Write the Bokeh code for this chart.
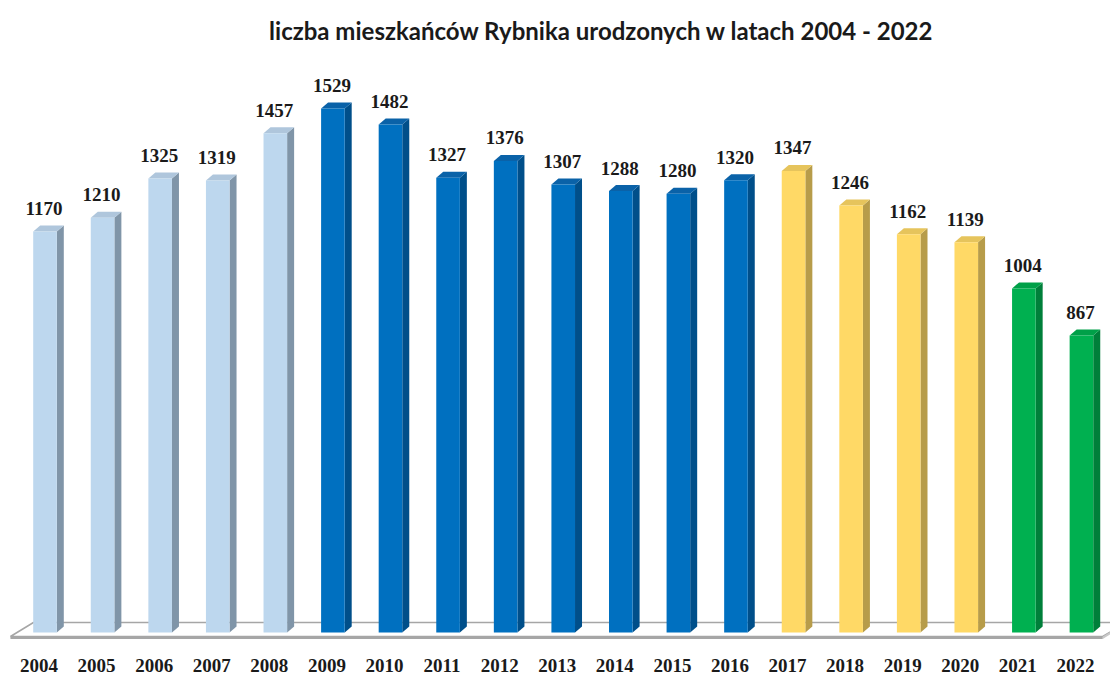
from bokeh.plotting import figure
from bokeh.models import ColumnDataSource, Range1d, LabelSet, Label
from bokeh.embed import file_html
from bokeh.resources import INLINE

# ---- data ----
years = ["2004", "2005", "2006", "2007", "2008", "2009", "2010", "2011", "2012", "2013",
         "2014", "2015", "2016", "2017", "2018", "2019", "2020", "2021", "2022"]
births = [1170, 1210, 1325, 1319, 1457, 1529, 1482, 1327, 1376, 1307,
          1288, 1280, 1320, 1347, 1246, 1162, 1139, 1004, 867]
groups = ["light"] * 5 + ["dark"] * 8 + ["yellow"] * 4 + ["green"] * 2
title_text = "liczba mieszkańców Rybnika urodzonych w latach 2004 - 2022"

# ---- styles ----
palette = {  # front, side, top
    "light": ("#BDD7EE", "#8095A8", "#AFC6DC"),
    "dark": ("#0070C0", "#004F8A", "#0A62A8"),
    "yellow": ("#FFD966", "#B79C4A", "#E6C45C"),
    "green": ("#00B050", "#007F3A", "#00A048"),
}

W, H = 1110, 675
n = len(years)
step_px = 57.58
x0 = -44.5 / step_px
x1 = x0 + W / step_px
ky = 0.3427                 # px per y unit
y1 = 632 / ky
y0 = -(H - 632) / ky
kx = step_px

hw = 11.8 / kx              # half width of front face
dx = 7.0 / kx               # depth offset x
dy = 6.0 / ky               # depth offset y

xs = list(range(n))
front_c = [palette[g][0] for g in groups]
side_c = [palette[g][1] for g in groups]
top_c = [palette[g][2] for g in groups]

side_xs, side_ys, top_xs, top_ys = [], [], [], []
for x, v in zip(xs, births):
    side_xs.append([x + hw, x + hw + dx, x + hw + dx, x + hw])
    side_ys.append([0, dy, v + dy, v])
    top_xs.append([x - hw, x - hw + dx, x + hw + dx, x + hw])
    top_ys.append([v, v + dy, v + dy, v])

src = ColumnDataSource(dict(
    x=xs, left=[x - hw for x in xs], right=[x + hw for x in xs],
    top=births, bottom=[0] * n, year=years, label=[str(v) for v in births],
    front=front_c, side=side_c, topc=top_c,
    sxs=side_xs, sys=side_ys, txs=top_xs, tys=top_ys,
))

p = figure(width=W, height=H, output_backend="svg", toolbar_location=None,
           x_range=Range1d(x0, x1), y_range=Range1d(y0, y1),
           min_border=0, min_border_left=0, min_border_right=0,
           min_border_top=0, min_border_bottom=0)
p.axis.visible = False
p.grid.visible = False
p.outline_line_color = None
p.background_fill_color = "white"
p.border_fill_color = "white"

# ---- floor ----
f_front = -4.0 / ky
f_back = 10.0 / ky
f_lf, f_lb = -0.6, -0.6 + 23 / kx
f_rf, f_rb = n - 1 + 0.37, n - 1 + 0.37 + 23 / kx
p.patch([f_lf, f_lb, f_rb, f_rf], [f_front, f_back, f_back, f_front],
        fill_color="white", line_color="#A6A6A6", line_width=1.5)
p.quad(left=[f_lf], right=[f_rf], top=[f_front], bottom=[f_front - 2.5 / ky],
       fill_color="#A6A6A6", line_color=None)
p.patch([f_rf, f_rb, f_rb, f_rf], [f_front - 2.5 / ky, f_back - 2.5 / ky, f_back, f_front],
        fill_color="#C8C8C8", line_color=None)

# ---- bars ----
p.patches("sxs", "sys", source=src, fill_color="side", line_color=None)
p.patches("txs", "tys", source=src, fill_color="topc", line_color=None)
p.quad(left="left", right="right", top="top", bottom="bottom", source=src,
       fill_color="front", line_color=None)

# ---- labels ----
p.add_layout(LabelSet(x="x", y="top", text="label", source=src, x_offset=-1, y_offset=23,
                      text_align="center", text_baseline="middle",
                      text_font="Liberation Serif", text_font_style="bold",
                      text_font_size="19px", text_color="#1a1a1a"))
p.add_layout(LabelSet(x="x", y="bottom", text="year", source=src, x_offset=-6, y_offset=-33,
                      text_align="center", text_baseline="middle",
                      text_font="Liberation Serif", text_font_style="bold",
                      text_font_size="19px", text_color="#1a1a1a"))
p.add_layout(Label(x=601, y=H - 30, x_units="screen", y_units="screen", text=title_text,
                   text_align="center", text_baseline="middle",
                   text_font="Lato", text_font_style="bold", text_font_size="24px",
                   text_color="#1a1a1a"))

open("out.html", "w").write(file_html(p, INLINE))
